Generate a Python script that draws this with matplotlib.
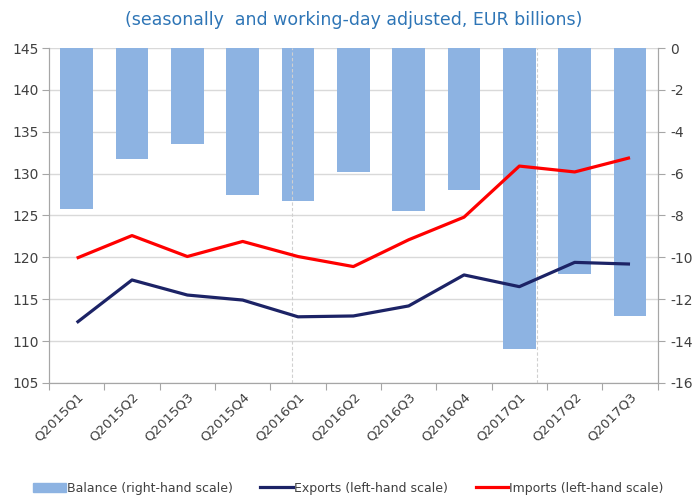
import matplotlib.pyplot as plt
from matplotlib.patches import Patch
from matplotlib.lines import Line2D

plt.rcParams['axes.unicode_minus'] = False

# quarters on the x axis
quarters = ['Q2015Q1', 'Q2015Q2', 'Q2015Q3', 'Q2015Q4', 'Q2016Q1', 'Q2016Q2',
            'Q2016Q3', 'Q2016Q4', 'Q2017Q1', 'Q2017Q2', 'Q2017Q3']

# balance (right-hand scale)
balance = [-7.7, -5.3, -4.6, -7.0, -7.3, -5.9, -7.8, -6.8, -14.4, -10.8, -12.8]

# exports and imports (left-hand scale)
exports = [112.2, 117.3, 115.5, 114.9, 112.9, 113.0, 114.2, 117.9, 116.5, 119.4, 119.2]
imports = [119.9, 122.6, 120.1, 121.9, 120.1, 118.9, 122.1, 124.8, 130.9, 130.2, 131.9]

x = list(range(len(quarters)))

grey = '#a6a6a6'
txt = '#404040'

fig = plt.figure(figsize=(6.97, 4.98), dpi=100)
ax = fig.add_axes([0.0703, 0.231, 0.8733, 0.6726])
ax2 = ax.twinx()

# bars on the right axis, drawn below the lines
ax2.bar(x, balance, width=0.59, color='#8db3e2', zorder=2)
ax2.set_ylim(-16, 0)
ax2.set_yticks(range(-16, 1, 2))
ax2.grid(axis='y', color='#d9d9d9', linewidth=1, zorder=0)
ax2.set_axisbelow(True)
for xv in [3.9, 8.32]:
    ax2.axvline(xv, color='#d0d0d0', linestyle=(0, (3, 2)), linewidth=0.8, zorder=3)

# lines on the left axis
ax.set_zorder(ax2.get_zorder() + 1)
ax.patch.set_visible(False)
ax.plot(x, exports, color='#1c2366', linewidth=2.3, solid_capstyle='butt')
ax.plot(x, imports, color='#ff0000', linewidth=2.3, solid_capstyle='butt')
ax.set_ylim(105, 145)
ax.set_yticks(range(105, 146, 5))
ax.set_xlim(-0.5, len(quarters) - 0.5)

# x ticks sit between categories, labels under each category
ax.set_xticks([i - 0.5 for i in range(len(quarters) + 1)])
ax.set_xticklabels([])
ax.set_xticks(x, minor=True)
ax.set_xticklabels(quarters, minor=True, rotation=45, ha='right',
                   rotation_mode='anchor', fontsize=9.5, color=txt)
ax.tick_params(axis='x', which='minor', length=0, pad=5)
ax.tick_params(axis='x', which='major', length=5, color=grey)

ax.tick_params(axis='y', length=5, color=grey, labelsize=10, labelcolor=txt, pad=2)
ax2.tick_params(axis='y', length=5, color=grey, labelsize=10, labelcolor=txt, pad=4)

for a in (ax, ax2):
    for s in a.spines.values():
        s.set_color(grey)
    a.spines['top'].set_visible(False)

fig.text(0.508, 0.96, '(seasonally  and working-day adjusted, EUR billions)',
         ha='center', va='center', fontsize=12.5, color='#2e75b6')

handles = [Patch(color='#8db3e2'),
           Line2D([], [], color='#1c2366', linewidth=2.3),
           Line2D([], [], color='#ff0000', linewidth=2.3)]
labels = ['Balance (right-hand scale)', 'Exports (left-hand scale)',
          'Imports (left-hand scale)']
fig.legend(handles, labels, loc='center', bbox_to_anchor=(0.5, 0.02), ncol=3,
           frameon=False, fontsize=9, handlelength=2.6, handletextpad=0.1,
           columnspacing=2.2, labelcolor=txt)

fig.savefig('out.png', dpi=100)
